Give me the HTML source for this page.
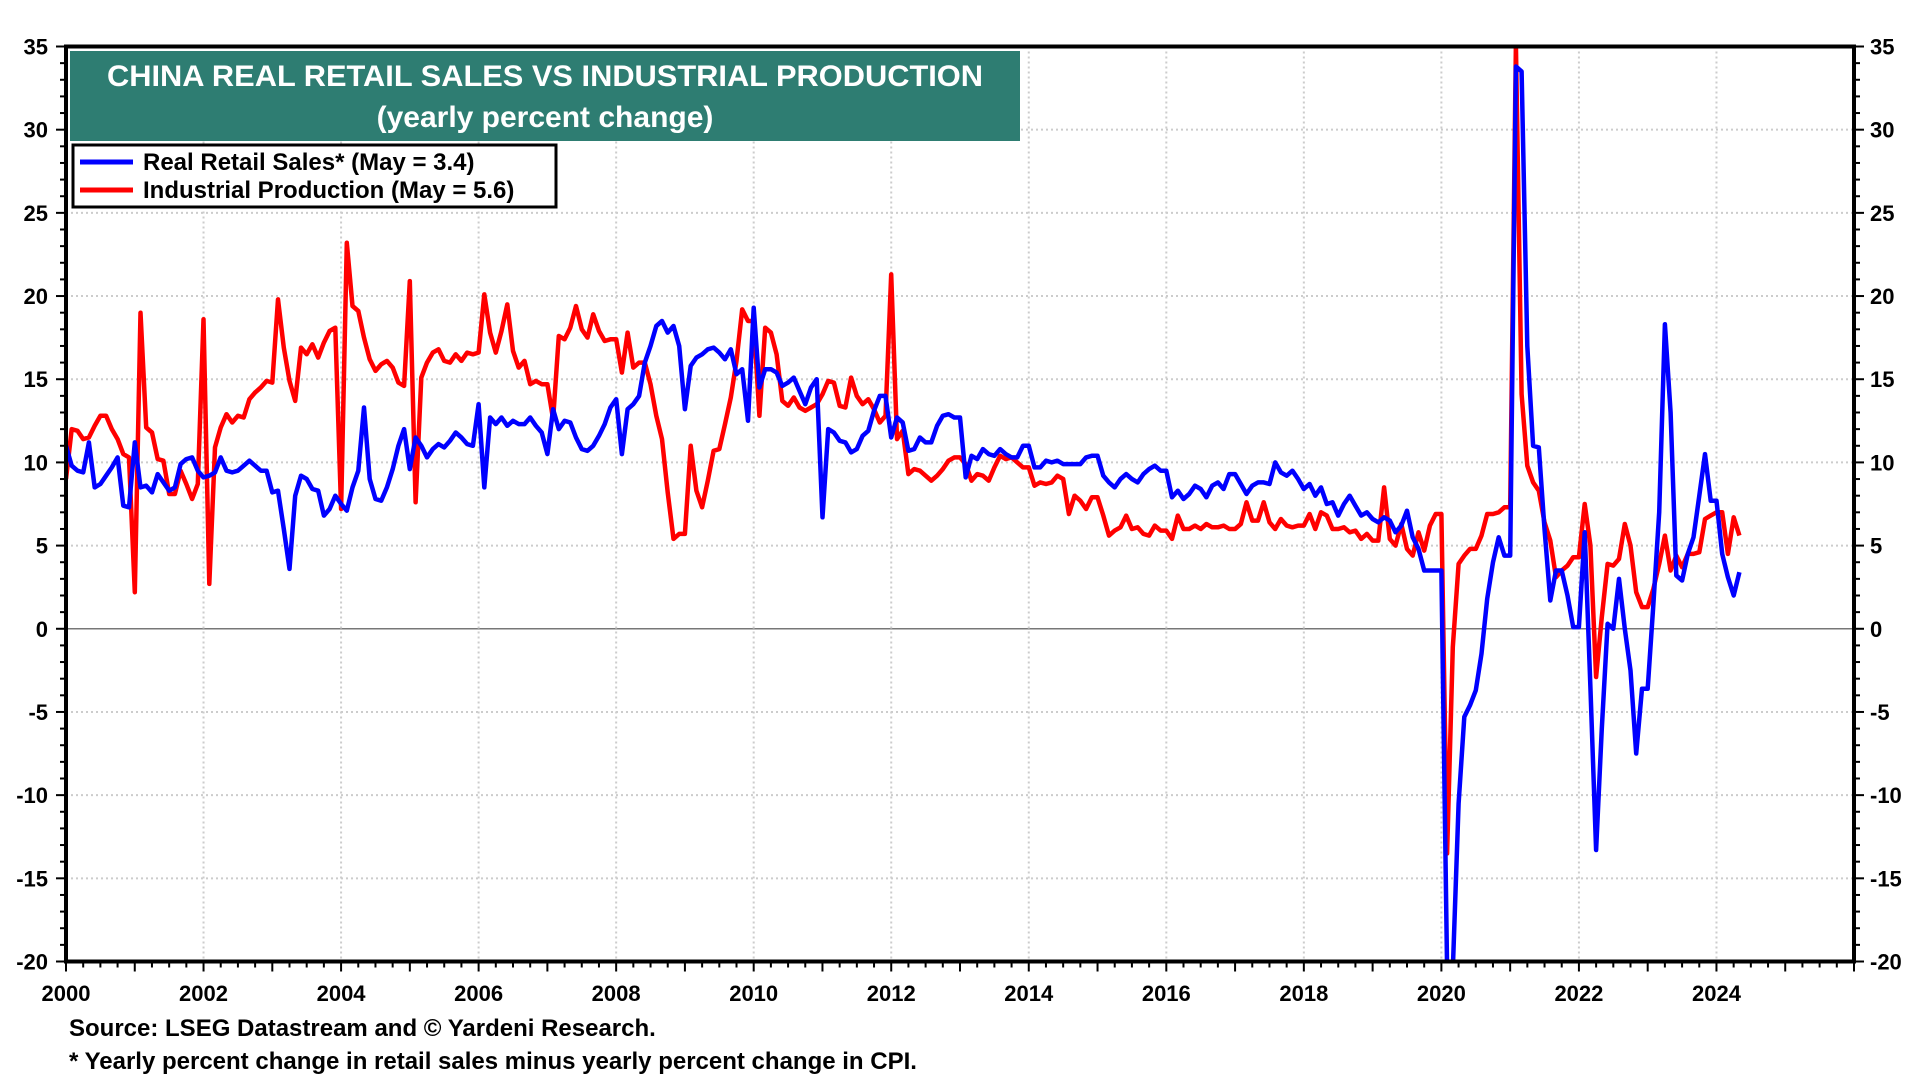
<!DOCTYPE html>
<html><head><meta charset="utf-8"><style>
body{margin:0;background:#fff;width:1920px;height:1080px;overflow:hidden;font-family:"Liberation Sans",Arial,sans-serif}
svg text{font-family:"Liberation Sans",Arial,sans-serif;font-weight:bold}
</style></head><body>
<svg id="chart" width="1920" height="1080" xmlns="http://www.w3.org/2000/svg">
<defs><clipPath id="clip"><rect x="66" y="46" width="1788" height="916"/></clipPath></defs>
<g id="grid"></g>
<g id="series" clip-path="url(#clip)"></g>
<rect x="66" y="46.5" width="1788" height="915" fill="none" stroke="#000" stroke-width="4"/>
<g id="axes"></g>
<rect x="70" y="51" width="950" height="90" fill="#2e7d72"/>
<text x="545" y="86" text-anchor="middle" fill="#fff" font-size="30" textLength="876" lengthAdjust="spacingAndGlyphs">CHINA REAL RETAIL SALES VS INDUSTRIAL PRODUCTION</text>
<text x="545" y="127" text-anchor="middle" fill="#fff" font-size="30">(yearly percent change)</text>
<g>
<rect x="73" y="145" width="483" height="62" fill="#fff" stroke="#000" stroke-width="3"/>
<line x1="80" y1="162" x2="133" y2="162" stroke="#0000ff" stroke-width="5"/>
<text x="143" y="170" font-size="24">Real Retail Sales* (May = 3.4)</text>
<line x1="80" y1="190" x2="133" y2="190" stroke="#ff0000" stroke-width="5"/>
<text x="143" y="198" font-size="24">Industrial Production (May = 5.6)</text>
</g>
<text x="69" y="1036" font-size="24">Source: LSEG Datastream and © Yardeni Research.</text>
<text x="69" y="1069" font-size="24">* Yearly percent change in retail sales minus yearly percent change in CPI.</text>
</svg>
<script>
const yTicks=[35,30,25,20,15,10,5,0,-5,-10,-15,-20];
const xTickYears=[2000,2002,2004,2006,2008,2010,2012,2014,2016,2018,2020,2022,2024];
const retail=[
11,9.8,9.5,9.4,11.2,8.5,8.7,9.2,9.7,10.3,7.4,7.3,
11.2,8.5,8.6,8.2,9.3,8.8,8.3,8.5,9.9,10.2,10.3,9.5,
9.1,9.2,9.4,10.3,9.5,9.4,9.5,9.8,10.1,9.8,9.5,9.5,
8.2,8.3,6,3.6,8,9.2,9,8.4,8.3,6.8,7.2,8,
7.5,7.1,8.5,9.5,13.3,9,7.8,7.7,8.5,9.6,11,12,
9.6,11.5,11,10.3,10.8,11.1,10.9,11.3,11.8,11.5,11.1,11,
13.5,8.5,12.7,12.3,12.7,12.2,12.5,12.3,12.3,12.7,12.2,11.8,
10.5,13.2,12,12.5,12.4,11.5,10.8,10.7,11,11.6,12.3,13.3,
13.8,10.5,13.2,13.5,14,16,17,18.2,18.5,17.8,18.2,17,
13.2,15.8,16.3,16.5,16.8,16.9,16.6,16.2,16.8,15.3,15.6,12.5,
19.3,14.5,15.6,15.6,15.4,14.6,14.8,15.1,14.3,13.5,14.5,15,
6.7,12,11.8,11.3,11.2,10.6,10.8,11.6,11.9,13.1,14,14,
11.5,12.7,12.4,10.7,10.8,11.5,11.2,11.2,12.2,12.8,12.9,12.7,
12.7,9.1,10.4,10.2,10.8,10.5,10.4,10.8,10.5,10.3,10.3,11,
11,9.7,9.7,10.1,10,10.1,9.9,9.9,9.9,9.9,10.3,10.4,
10.4,9.2,8.8,8.5,9,9.3,9,8.8,9.3,9.6,9.8,9.5,
9.5,7.9,8.3,7.8,8.1,8.6,8.4,7.9,8.6,8.8,8.4,9.3,
9.3,8.7,8.1,8.6,8.8,8.8,8.7,10,9.4,9.2,9.5,9,
8.4,8.7,8,8.5,7.5,7.6,6.8,7.5,8,7.4,6.8,7,
6.6,6.4,6.7,6.5,5.8,6.2,7.1,5.5,4.8,3.5,3.5,3.5,
3.5,-20.5,-20.5,-10.5,-5.3,-4.6,-3.7,-1.5,1.8,4,5.5,4.4,
4.4,33.8,33.5,17,11,10.9,6,1.7,3.5,3.5,2,0.1,
0.1,5.8,-3.5,-13.3,-6,0.3,0,3,0,-2.5,-7.5,-3.6,
-3.6,1.5,7,18.3,13,3.2,2.9,4.5,5.5,8,10.5,7.7,
7.7,4.5,3.1,2,3.4];
const industrial=[
9,12,11.9,11.4,11.5,12.2,12.8,12.8,12,11.4,10.5,10.3,
2.2,19,12.1,11.8,10.2,10.1,8.1,8.1,9.5,8.7,7.8,8.7,
18.6,2.7,10.9,12.1,12.9,12.4,12.8,12.7,13.8,14.2,14.5,14.9,
14.8,19.8,16.9,14.9,13.7,16.9,16.5,17.1,16.3,17.2,17.9,18.1,
7.2,23.2,19.4,19.1,17.5,16.2,15.5,15.9,16.1,15.7,14.8,14.6,
20.9,7.6,15.1,16,16.6,16.8,16.1,16,16.5,16.1,16.6,16.5,
16.6,20.1,17.8,16.6,17.9,19.5,16.7,15.7,16.1,14.7,14.9,14.7,
14.7,12.6,17.6,17.4,18.1,19.4,18,17.5,18.9,17.9,17.3,17.4,
17.4,15.4,17.8,15.7,16,16,14.7,12.8,11.4,8.2,5.4,5.7,
5.7,11,8.3,7.3,8.9,10.7,10.8,12.3,13.9,16.1,19.2,18.5,
18.5,12.8,18.1,17.8,16.5,13.7,13.4,13.9,13.3,13.1,13.3,13.5,
14.1,14.9,14.8,13.4,13.3,15.1,14,13.5,13.8,13.2,12.4,12.8,
21.3,11.4,11.9,9.3,9.6,9.5,9.2,8.9,9.2,9.6,10.1,10.3,
10.3,9.9,8.9,9.3,9.2,8.9,9.7,10.4,10.2,10.3,10,9.7,
9.7,8.6,8.8,8.7,8.8,9.2,9,6.9,8,7.7,7.2,7.9,
7.9,6.8,5.6,5.9,6.1,6.8,6,6.1,5.7,5.6,6.2,5.9,
5.9,5.4,6.8,6,6,6.2,6,6.3,6.1,6.1,6.2,6,
6,6.3,7.6,6.5,6.5,7.6,6.4,6,6.6,6.2,6.1,6.2,
6.2,6.9,6,7,6.8,6,6,6.1,5.8,5.9,5.4,5.7,
5.3,5.3,8.5,5.4,5,6.3,4.8,4.4,5.8,4.7,6.2,6.9,
6.9,-13.5,-1.1,3.9,4.4,4.8,4.8,5.6,6.9,6.9,7,7.3,
7.3,35.1,14.1,9.8,8.8,8.3,6.4,5.3,3.1,3.5,3.8,4.3,
4.3,7.5,5,-2.9,0.7,3.9,3.8,4.2,6.3,5,2.2,1.3,
1.3,2.4,3.9,5.6,3.5,4.4,3.7,4.5,4.5,4.6,6.6,6.8,
7,7,4.5,6.7,5.6];
const X0=66,X1=1854,Y0=46.5,Y1=961.5;
function xs(t){return X0+(t-2000)/26*(X1-X0);}
function ys(v){return Y0+(35-v)/55*(Y1-Y0);}
const NS='http://www.w3.org/2000/svg';
function mk(tag,attrs,parent){const e=document.createElementNS(NS,tag);for(const k in attrs)e.setAttribute(k,attrs[k]);parent.appendChild(e);return e;}
const grid=document.getElementById('grid'),axes=document.getElementById('axes'),ser=document.getElementById('series');
yTicks.forEach(v=>{
 const y=ys(v);
 if(v!==35&&v!==-20){const l=mk('line',{x1:X0,x2:X1,y1:y,y2:y,stroke:v===0?'#777':'#ccc','stroke-width':v===0?1.5:2,'stroke-dasharray':v===0?'':'2,3'},grid);
 }
 const t1=mk('text',{x:48,y:y+8,'text-anchor':'end','font-size':22},axes);t1.textContent=v;
 
 const t2=mk('text',{x:1870,y:y+8,'text-anchor':'start','font-size':22},axes);t2.textContent=v;
 
});
for(let v=-20;v<=35;v++){const y=ys(v),L=v%5===0?10:6;
 mk('line',{x1:X0-L,x2:X0,y1:y,y2:y,stroke:'#000','stroke-width':2},axes);
 mk('line',{x1:X1,x2:X1+L,y1:y,y2:y,stroke:'#000','stroke-width':2},axes);}
xTickYears.forEach(yr=>{const x=xs(yr);
 if(yr>2000){const l=mk('line',{x1:x,x2:x,y1:Y0,y2:Y1,stroke:'#ccc','stroke-width':2,'stroke-dasharray':'2,3'},grid);
 }
 const t=mk('text',{x:x,y:1001,'text-anchor':'middle','font-size':22},axes);t.textContent=yr;
 });
for(let q=0;q<=104;q++){const x=xs(2000+q/4);mk('line',{x1:x,x2:x,y1:Y1,y2:Y1+(q%4===0?10:6),stroke:'#000','stroke-width':2},axes);}
function draw(data,color,name){
 const pts=data.map((v,i)=>xs(2000+i/12).toFixed(1)+','+ys(v).toFixed(1)).join(' ');
 const p=mk('polyline',{points:pts,fill:'none',stroke:color,'stroke-width':4.5,'stroke-linejoin':'round'},ser);
 
 
}
draw(industrial,'#ff0000','industrial-production-line');
draw(retail,'#0000ff','real-retail-sales-line');
</script>
</body></html>
